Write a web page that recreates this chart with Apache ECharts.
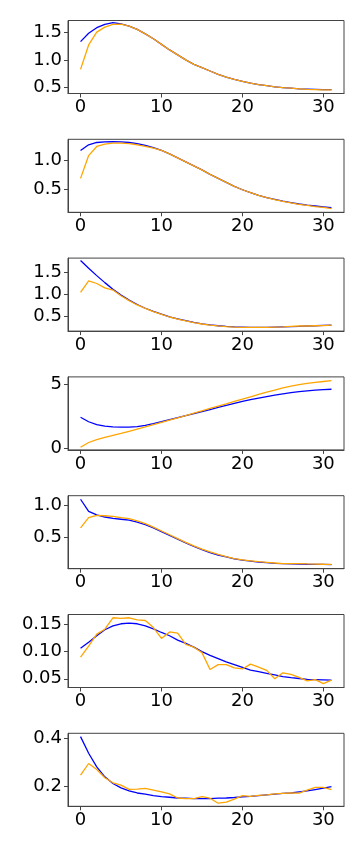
<!DOCTYPE html>
<html><head><meta charset="utf-8">
<script src="https://cdn.jsdelivr.net/npm/echarts@6/dist/echarts.min.js"></script>
<style>html,body{margin:0;padding:0;background:#fff}#c{width:364px;height:850px}</style>
</head><body><div id="c"></div>
<script>
const xValues = [0,1,2,3,4,5,6,7,8,9,10,11,12,13,14,15,16,17,18,19,20,21,22,23,24,25,26,27,28,29,30,31];
const xTicks = [0,10,20,30];

const p1Blue   = [1.33,1.48,1.58,1.64,1.67,1.65,1.61,1.55,1.47,1.38,1.28,1.18,1.09,1.00,0.92,0.86,0.80,0.74,0.69,0.65,0.615,0.58,0.555,0.535,0.515,0.50,0.49,0.48,0.475,0.47,0.465,0.465];
const p1Orange = [0.83,1.27,1.50,1.59,1.64,1.645,1.61,1.55,1.47,1.38,1.28,1.18,1.09,1.00,0.92,0.86,0.80,0.74,0.69,0.65,0.615,0.58,0.555,0.535,0.515,0.50,0.49,0.48,0.47,0.465,0.46,0.46];

const p2Blue   = [1.18,1.28,1.32,1.33,1.335,1.33,1.32,1.30,1.27,1.23,1.18,1.12,1.05,0.98,0.91,0.84,0.76,0.69,0.62,0.55,0.49,0.44,0.39,0.35,0.32,0.29,0.265,0.24,0.22,0.205,0.19,0.175];
const p2Orange = [0.69,1.09,1.25,1.29,1.31,1.31,1.30,1.28,1.25,1.22,1.18,1.12,1.05,0.98,0.91,0.84,0.76,0.69,0.62,0.55,0.49,0.44,0.39,0.35,0.315,0.285,0.26,0.235,0.215,0.195,0.18,0.16];

const p3Blue   = [1.777,1.60,1.43,1.27,1.12,0.985,0.87,0.77,0.685,0.615,0.55,0.49,0.44,0.40,0.36,0.33,0.305,0.285,0.27,0.26,0.255,0.25,0.25,0.25,0.255,0.26,0.265,0.27,0.28,0.285,0.295,0.30];
const p3Orange = [1.05,1.31,1.25,1.15,1.10,0.97,0.86,0.76,0.68,0.61,0.545,0.485,0.435,0.395,0.355,0.325,0.30,0.28,0.265,0.255,0.25,0.25,0.25,0.25,0.255,0.26,0.27,0.28,0.28,0.285,0.29,0.30];

const p4Blue   = [2.40,2.05,1.83,1.70,1.64,1.62,1.63,1.67,1.76,1.90,2.05,2.21,2.37,2.53,2.69,2.85,3.01,3.17,3.33,3.49,3.64,3.78,3.91,4.03,4.14,4.24,4.33,4.41,4.48,4.53,4.57,4.60];
const p4Orange = [0.05,0.42,0.65,0.83,0.98,1.13,1.30,1.47,1.64,1.82,2.00,2.18,2.36,2.54,2.72,2.90,3.09,3.28,3.46,3.65,3.83,4.01,4.19,4.37,4.54,4.70,4.84,4.96,5.06,5.14,5.21,5.27];

const p5Blue   = [1.10,0.91,0.855,0.82,0.80,0.785,0.77,0.74,0.70,0.65,0.59,0.53,0.47,0.41,0.355,0.305,0.26,0.22,0.19,0.16,0.14,0.125,0.11,0.10,0.09,0.085,0.08,0.078,0.075,0.073,0.072,0.07];
const p5Orange = [0.65,0.81,0.845,0.84,0.83,0.81,0.795,0.76,0.715,0.66,0.60,0.54,0.48,0.42,0.365,0.315,0.27,0.23,0.195,0.165,0.145,0.13,0.115,0.105,0.095,0.085,0.085,0.085,0.08,0.078,0.075,0.073];

const p6Blue   = [0.106,0.117,0.129,0.140,0.147,0.151,0.152,0.151,0.147,0.1415,0.135,0.129,0.121,0.115,0.108,0.100,0.093,0.087,0.081,0.076,0.071,0.066,0.063,0.060,0.057,0.054,0.052,0.0505,0.049,0.0485,0.048,0.0475];
const p6Orange = [0.0896,0.110,0.132,0.141,0.162,0.161,0.162,0.158,0.157,0.144,0.124,0.136,0.134,0.113,0.108,0.098,0.067,0.076,0.076,0.070,0.068,0.077,0.0715,0.0655,0.050,0.061,0.058,0.0525,0.046,0.0485,0.041,0.0475];

const p7Blue   = [0.407,0.337,0.280,0.238,0.210,0.1915,0.179,0.170,0.165,0.159,0.155,0.152,0.149,0.148,0.1465,0.1465,0.1465,0.148,0.149,0.151,0.1535,0.156,0.159,0.162,0.165,0.168,0.170,0.175,0.179,0.1845,0.190,0.197];
const p7Orange = [0.245,0.294,0.269,0.234,0.213,0.203,0.185,0.186,0.189,0.182,0.175,0.166,0.149,0.1465,0.1465,0.155,0.148,0.127,0.132,0.144,0.159,0.156,0.160,0.162,0.166,0.168,0.170,0.169,0.182,0.194,0.194,0.1845];

const blueSeries   = [p1Blue, p2Blue, p3Blue, p4Blue, p5Blue, p6Blue, p7Blue];
const orangeSeries = [p1Orange, p2Orange, p3Orange, p4Orange, p5Orange, p6Orange, p7Orange];
const yLimits = [[0.395,1.71],[0.094,1.376],[0.163,1.83],[-0.16,5.57],[0.005,1.156],[0.034,0.168],[0.114,0.421]];
const yTickLists = [[0.5,1.0,1.5],[0.5,1.0],[0.5,1.0,1.5],[0,5],[0.5,1.0],[0.05,0.10,0.15],[0.2,0.4]];
const yDecimals = [1,1,1,0,1,2,1];

const FONT = 'DejaVu Sans';
const AX = '#444';
const grids = [], xAxes = [], yAxes = [], series = [];
for (let i = 0; i < 7; i++) {
  grids.push({left: 68, width: 276, top: 20.5 + 118.8 * i, height: 73, show: true,
    borderColor: AX, borderWidth: 1, backgroundColor: 'transparent'});
  xAxes.push({type: 'value', gridIndex: i, min: -1.55, max: 32.55, position: 'bottom',
    axisLine: {show: true, onZero: false, lineStyle: {color: AX, width: 1}},
    axisTick: {show: true, inside: false, customValues: xTicks, length: 4, lineStyle: {color: AX, width: 1}},
    axisLabel: {show: true, inside: false, customValues: xTicks, fontSize: 18, color: '#000', margin: 5, fontFamily: FONT},
    splitLine: {show: false}});
  const dec = yDecimals[i];
  yAxes.push({type: 'value', gridIndex: i, min: yLimits[i][0], max: yLimits[i][1], position: 'left',
    axisLine: {show: true, onZero: false, lineStyle: {color: AX, width: 1}},
    axisTick: {show: true, inside: false, customValues: yTickLists[i], length: 4, lineStyle: {color: AX, width: 1}},
    axisLabel: {show: true, inside: false, customValues: yTickLists[i], fontSize: 18, color: '#000', margin: 6, fontFamily: FONT,
      formatter: v => Number(v).toFixed(dec)},
    splitLine: {show: false}});
  series.push({type: 'line', xAxisIndex: i, yAxisIndex: i, symbol: 'none', silent: true,
    data: xValues.map((x, k) => [x, blueSeries[i][k]]),
    lineStyle: {color: '#0000ff', width: 1.3}, itemStyle: {color: '#0000ff'}});
  series.push({type: 'line', xAxisIndex: i, yAxisIndex: i, symbol: 'none', silent: true,
    data: xValues.map((x, k) => [x, orangeSeries[i][k]]),
    lineStyle: {color: '#ffa500', width: 1.3}, itemStyle: {color: '#ffa500'}});
}
const chart = echarts.init(document.getElementById('c'), null, {renderer: 'canvas'});
chart.setOption({backgroundColor: '#fff', animation: false, grid: grids, xAxis: xAxes, yAxis: yAxes, series: series});
</script></body></html>
